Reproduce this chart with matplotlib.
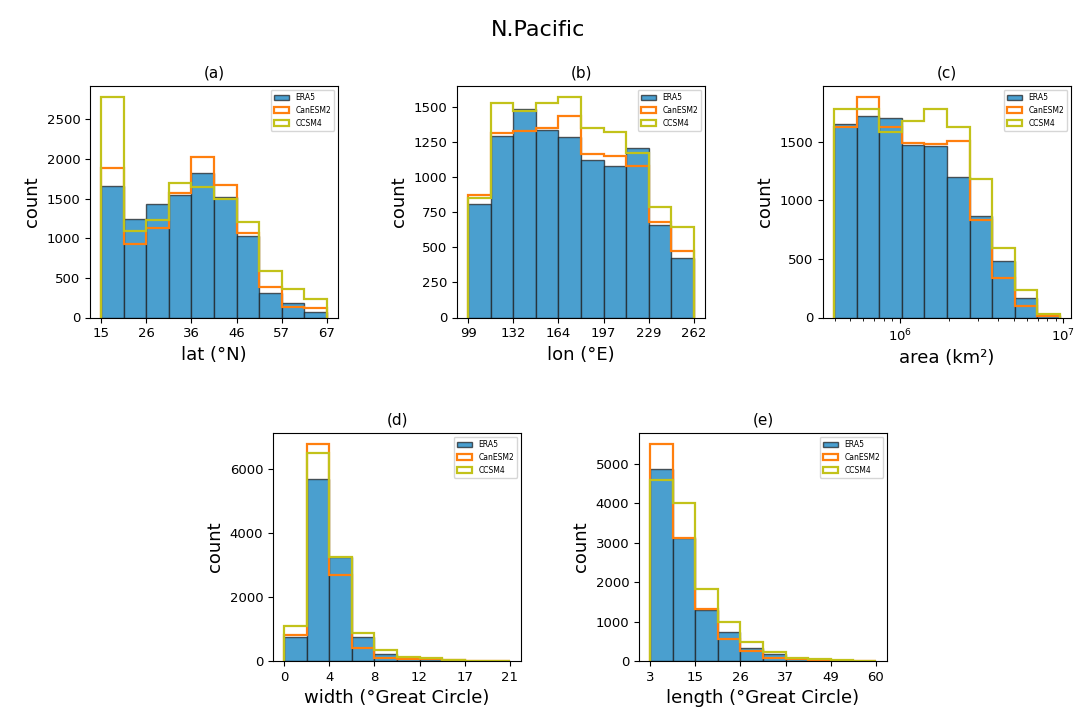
import numpy as np
import matplotlib
matplotlib.use('Agg')
import matplotlib.pyplot as plt
from matplotlib.ticker import MultipleLocator

# bin edges (10 bins per panel)
lat_edges = np.linspace(15, 67, 11)
lon_edges = np.linspace(99, 262, 11)
area_edges = np.logspace(5.6, 6.98, 11)
width_edges = np.linspace(0, 21, 11)
length_edges = np.linspace(3, 60, 11)

lat_ticks = ['15', '26', '36', '46', '57', '67']
lon_ticks = ['99', '132', '164', '197', '229', '262']
width_ticks = ['0', '4', '8', '12', '17', '21']
length_ticks = ['3', '15', '26', '37', '49', '60']

# counts
lat_era5 = [1655, 1245, 1430, 1550, 1825, 1520, 1025, 315, 185, 75]
lat_can = [1890, 930, 1130, 1575, 2025, 1670, 1065, 390, 135, 115]
lat_ccsm = [2780, 1095, 1235, 1690, 1645, 1490, 1210, 590, 360, 235]

lon_era5 = [810, 1295, 1487, 1336, 1288, 1121, 1080, 1205, 657, 423]
lon_can = [872, 1312, 1327, 1350, 1434, 1164, 1152, 1076, 679, 476]
lon_ccsm = [853, 1530, 1470, 1530, 1570, 1350, 1319, 1171, 789, 643]

area_era5 = [1652, 1723, 1703, 1474, 1466, 1200, 870, 478, 163, 12]
area_can = [1629, 1881, 1623, 1489, 1480, 1503, 836, 335, 97, 14]
area_ccsm = [1781, 1781, 1586, 1680, 1781, 1623, 1185, 593, 235, 34]

width_era5 = [755, 5690, 3240, 755, 230, 110, 50, 30, 15, 5]
width_can = [827, 6790, 2700, 393, 80, 50, 60, 30, 15, 5]
width_ccsm = [1093, 6510, 3260, 890, 330, 134, 80, 40, 15, 5]

length_era5 = [4854, 3113, 1300, 736, 335, 167, 84, 30, 15, 5]
length_can = [5498, 3113, 1320, 569, 251, 84, 42, 20, 10, 5]
length_ccsm = [4577, 3992, 1816, 996, 485, 226, 84, 60, 30, 10]

c_era5 = '#4a9fcf'
c_can = '#ff7f0e'
c_ccsm = '#c2c21a'


def panel(ax, edges, era5, can, ccsm, title, xlabel, ticklabels=None, log=False, ystep=None):
    if log:
        centers = np.sqrt(edges[:-1] * edges[1:])
    else:
        centers = (edges[:-1] + edges[1:]) / 2
    ax.hist(centers, bins=edges, weights=era5, color=c_era5,
            edgecolor=(0.1, 0.1, 0.1, 0.7), linewidth=1.0, label='ERA5')
    ax.hist(centers, bins=edges, weights=can, histtype='step',
            color=c_can, linewidth=1.6, label='CanESM2')
    ax.hist(centers, bins=edges, weights=ccsm, histtype='step',
            color=c_ccsm, linewidth=1.6, label='CCSM4')
    if log:
        ax.set_xscale('log')
    else:
        ax.set_xticks(edges[::2])
        ax.set_xticklabels(ticklabels)
    if ystep:
        ax.yaxis.set_major_locator(MultipleLocator(ystep))
    ax.set_title(title, fontsize=11)
    ax.set_xlabel(xlabel, fontsize=13)
    ax.set_ylabel('count', fontsize=13)
    ax.tick_params(labelsize=9.5)
    ax.legend(loc='upper right', fontsize=5.5)


fig = plt.figure(figsize=(10.77, 7.17), dpi=100)
W, H = 1077, 717


def add_axes(left, top, right, bottom):
    return fig.add_axes([left / W, 1 - bottom / H, (right - left) / W, (bottom - top) / H])


ax_a = add_axes(90, 86, 338, 317.5)
ax_b = add_axes(457, 86, 705, 317.5)
ax_c = add_axes(823, 86, 1071, 317.5)
ax_d = add_axes(273, 433, 521, 661)
ax_e = add_axes(639, 433, 887, 661)

panel(ax_a, lat_edges, lat_era5, lat_can, lat_ccsm, '(a)', 'lat (°N)', lat_ticks)
panel(ax_b, lon_edges, lon_era5, lon_can, lon_ccsm, '(b)', 'lon (°E)', lon_ticks)
panel(ax_c, area_edges, area_era5, area_can, area_ccsm, '(c)', 'area (km²)', log=True, ystep=500)
panel(ax_d, width_edges, width_era5, width_can, width_ccsm, '(d)', 'width (°Great Circle)', width_ticks, ystep=2000)
panel(ax_e, length_edges, length_era5, length_can, length_ccsm, '(e)', 'length (°Great Circle)', length_ticks)

fig.suptitle('N.Pacific', fontsize=16, y=0.972)

fig.savefig('out.png', dpi=100)
